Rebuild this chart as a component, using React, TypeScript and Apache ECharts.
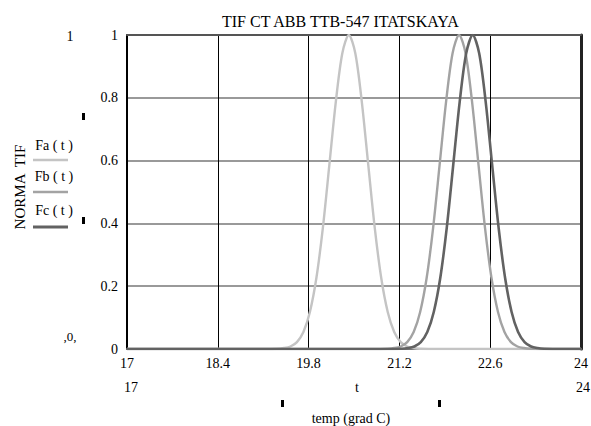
import React, { useEffect, useRef } from "react";
import * as echarts from "echarts";

const TITLE = "TIF CT ABB TTB-547 ITATSKAYA";
const Y_NAME = "NORMA  TIF";
const X_NAME = "temp (grad C)";
const X_VAR = "t";
const X_MIN = 17;
const X_MAX = 24;
const X_STEP = 1.4;
const Y_MIN = 0;
const Y_MAX = 1;
const Y_STEP = 0.2;
const SERIES_NAMES = ["Fa ( t )", "Fb ( t )", "Fc ( t )"];
const COLORS = ["#c4c4c4", "#a3a3a3", "#626262"];

// Fa(t)
const tA = [17, 19.1, 19.32, 19.42, 19.52, 19.62, 19.72, 19.82, 19.92, 20.02, 20.12, 20.22, 20.32, 20.42, 20.52, 20.62, 20.72, 20.82, 20.92, 21.02, 21.12, 21.22, 21.32, 21.42, 21.52, 21.8, 24];
const fA = [0, 0, 0.001, 0.003, 0.008, 0.022, 0.054, 0.118, 0.226, 0.386, 0.586, 0.788, 0.942, 1, 0.942, 0.788, 0.586, 0.386, 0.226, 0.118, 0.054, 0.022, 0.008, 0.003, 0.001, 0, 0];
// Fb(t)
const tB = [17, 20.8, 21.02, 21.12, 21.22, 21.32, 21.42, 21.52, 21.62, 21.72, 21.82, 21.92, 22.02, 22.12, 22.22, 22.32, 22.42, 22.52, 22.62, 22.72, 22.82, 22.92, 23.02, 23.12, 23.22, 23.5, 24];
const fB = [0, 0, 0.001, 0.003, 0.008, 0.022, 0.054, 0.118, 0.226, 0.386, 0.586, 0.788, 0.942, 1, 0.942, 0.788, 0.586, 0.386, 0.226, 0.118, 0.054, 0.022, 0.008, 0.003, 0.001, 0, 0];
// Fc(t)
const tC = [17, 21.0, 21.23, 21.33, 21.43, 21.53, 21.63, 21.73, 21.83, 21.93, 22.03, 22.13, 22.23, 22.33, 22.43, 22.53, 22.63, 22.73, 22.83, 22.93, 23.03, 23.13, 23.23, 23.33, 23.43, 23.7, 24];
const fC = [0, 0, 0.001, 0.003, 0.008, 0.022, 0.054, 0.118, 0.226, 0.386, 0.586, 0.788, 0.942, 1, 0.942, 0.788, 0.586, 0.386, 0.226, 0.118, 0.054, 0.022, 0.008, 0.003, 0.001, 0, 0];

const FONT = "Liberation Serif";

function pairs(t: number[], v: number[]) {
  return t.map((x, i) => [x, v[i]]);
}

export default function App() {
  const ref = useRef<HTMLDivElement>(null);
  useEffect(() => {
    if (!ref.current) return;
    const chart = echarts.init(ref.current, undefined, { renderer: "svg" });
    const txt = (text: string, x: number, y: number, extra: any = {}) => ({
      type: "text",
      x,
      y,
      ...extra,
      style: {
        text,
        fontFamily: FONT,
        fontSize: 14,
        fill: "#000",
        textAlign: "center",
        textVerticalAlign: "middle",
        ...(extra.style || {}),
      },
    });
    const legendY = [
      { ty: 145, ly: 160, w: 2.5 },
      { ty: 176, ly: 192, w: 2.5 },
      { ty: 210, ly: 227, w: 3 },
    ];
    const graphic: any[] = [
      txt("1", 70, 36),
      txt(",0,", 70, 336, { style: { fontSize: 13 } }),
      txt(Y_NAME, 20, 187, { rotation: Math.PI / 2, style: { fontSize: 15 } }),
      txt(String(X_MIN), 131, 387),
      txt(X_VAR, 357, 387),
      txt(String(X_MAX), 576, 387, { style: { textAlign: "left" } }),
      txt(X_NAME, 351, 418),
      { type: "rect", shape: { x: 82, y: 113, width: 3, height: 7 }, style: { fill: "#000" } },
      { type: "rect", shape: { x: 82, y: 217, width: 3, height: 7 }, style: { fill: "#000" } },
      { type: "rect", shape: { x: 281, y: 400, width: 3, height: 7 }, style: { fill: "#000" } },
      { type: "rect", shape: { x: 438, y: 400, width: 3, height: 7 }, style: { fill: "#000" } },
    ];
    SERIES_NAMES.forEach((n, i) => {
      graphic.push(txt(n, 54, legendY[i].ty));
      graphic.push({
        type: "line",
        shape: { x1: 33, y1: legendY[i].ly, x2: 68, y2: legendY[i].ly },
        style: { stroke: COLORS[i], lineWidth: legendY[i].w },
      });
    });
    const data = [pairs(tA, fA), pairs(tB, fB), pairs(tC, fC)];
    chart.setOption({
      animation: false,
      backgroundColor: "#fff",
      title: {
        text: TITLE,
        left: 222,
        top: 13,
        padding: 0,
        textStyle: { fontFamily: FONT, fontSize: 16, fontWeight: "normal", color: "#000" },
      },
      grid: { left: 127, right: 6, top: 35, bottom: 77, containLabel: false },
      xAxis: [
        {
          type: "value",
          min: X_MIN,
          max: X_MAX,
          interval: X_STEP,
          axisLine: { show: true, onZero: false, lineStyle: { color: "#777", width: 2 } },
          axisTick: { show: false },
          axisLabel: { fontFamily: FONT, fontSize: 14, color: "#000", margin: 7 },
          splitLine: { show: true, lineStyle: { color: "#000", width: 1 } },
        },
        {
          type: "value",
          position: "top",
          min: X_MIN,
          max: X_MAX,
          interval: X_STEP,
          axisLine: { show: true, onZero: false, lineStyle: { color: "#555", width: 2 } },
          axisTick: { show: false },
          axisLabel: { show: false },
          splitLine: { show: false },
        },
      ],
      yAxis: [
        {
          type: "value",
          min: Y_MIN,
          max: Y_MAX,
          interval: Y_STEP,
          axisLine: { show: true, onZero: false, lineStyle: { color: "#000", width: 2 } },
          axisTick: { show: false },
          axisLabel: { fontFamily: FONT, fontSize: 14, color: "#000", margin: 9 },
          splitLine: { show: true, lineStyle: { color: "#777", width: 1.5 } },
        },
        {
          type: "value",
          position: "right",
          min: Y_MIN,
          max: Y_MAX,
          interval: Y_STEP,
          axisLine: { show: true, onZero: false, lineStyle: { color: "#222", width: 3 } },
          axisTick: { show: false },
          axisLabel: { show: false },
          splitLine: { show: false },
        },
      ],
      series: SERIES_NAMES.map((n, i) => ({
        name: n,
        type: "line",
        xAxisIndex: 0,
        yAxisIndex: 0,
        data: data[i],
        smooth: 0.3,
        showSymbol: false,
        symbol: "none",
        lineStyle: { color: COLORS[i], width: i === 2 ? 2.6 : 2.4 },
        z: 3 + i,
      })),
      graphic,
    });
    return () => chart.dispose();
  }, []);
  return (
    <div
      ref={ref}
      style={{ position: "fixed", left: 0, top: 0, width: 591, height: 426 }}
    />
  );
}
